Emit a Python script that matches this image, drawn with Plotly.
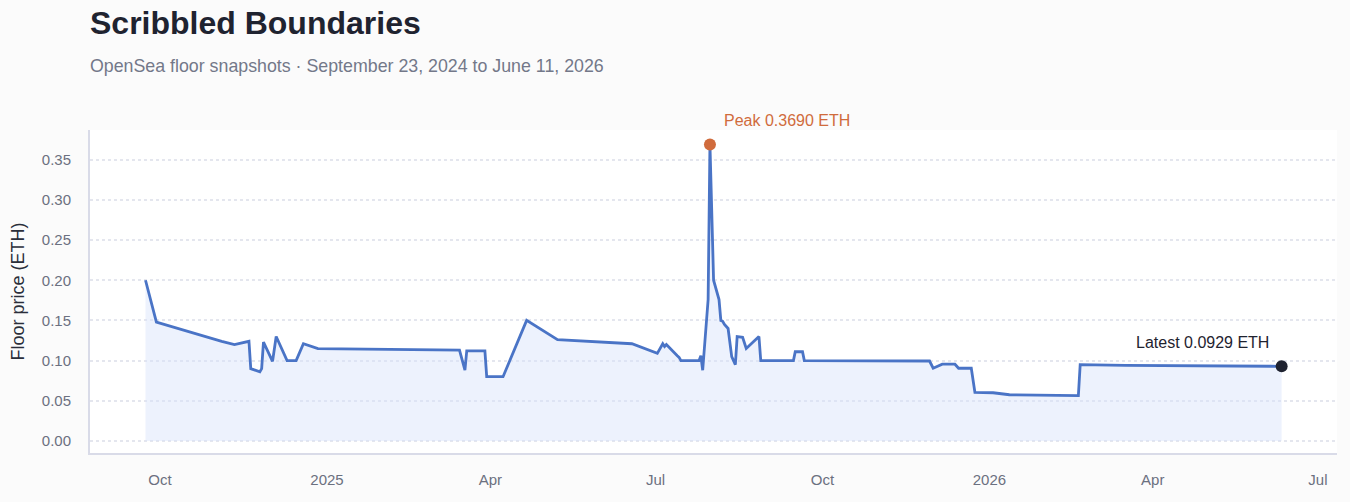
import plotly.graph_objects as go

dates = [
    "2024-09-23", "2024-09-29", "2024-11-04", "2024-11-11", "2024-11-19", "2024-11-20",
    "2024-11-25", "2024-11-26", "2024-11-27", "2024-12-02", "2024-12-04", "2024-12-06",
    "2024-12-07", "2024-12-10", "2024-12-15", "2024-12-19", "2024-12-27", "2025-02-01",
    "2025-03-15", "2025-03-18", "2025-03-19", "2025-03-29", "2025-03-30", "2025-04-08",
    "2025-04-21", "2025-05-08", "2025-06-18", "2025-07-02", "2025-07-05", "2025-07-06",
    "2025-07-07", "2025-07-13", "2025-07-14", "2025-07-15", "2025-07-25", "2025-07-26",
    "2025-07-27", "2025-07-30", "2025-07-31", "2025-08-02", "2025-08-05", "2025-08-06",
    "2025-08-07", "2025-08-08", "2025-08-10", "2025-08-12", "2025-08-14", "2025-08-15",
    "2025-08-18", "2025-08-20", "2025-08-27", "2025-08-28", "2025-09-15", "2025-09-16",
    "2025-09-20", "2025-09-21", "2025-10-14", "2025-10-15", "2025-11-29", "2025-12-01",
    "2025-12-06", "2025-12-13", "2025-12-15", "2025-12-22", "2025-12-24", "2026-01-03",
    "2026-01-12", "2026-02-19", "2026-02-20", "2026-03-17", "2026-05-28", "2026-06-11",
]
floor_eth = [
    0.200, 0.148, 0.124, 0.120, 0.124, 0.090,
    0.086, 0.090, 0.123, 0.099, 0.130, 0.120,
    0.115, 0.100, 0.100, 0.121, 0.115, 0.1145,
    0.113, 0.088, 0.112, 0.112, 0.080, 0.080,
    0.150, 0.126, 0.121, 0.109, 0.121, 0.1175,
    0.120, 0.106, 0.104, 0.100, 0.100, 0.106,
    0.088, 0.176, 0.369, 0.200, 0.176, 0.150,
    0.149, 0.145, 0.140, 0.105, 0.095, 0.130,
    0.129, 0.115, 0.130, 0.100, 0.100, 0.111,
    0.111, 0.100, 0.100, 0.0995, 0.0995, 0.0905,
    0.0955, 0.0955, 0.0905, 0.0905, 0.0605, 0.060,
    0.0575, 0.0565, 0.095, 0.094, 0.0925, 0.0929,
]

tick_vals = ["2024-10-01", "2025-01-01", "2025-04-01", "2025-07-01",
             "2025-10-01", "2026-01-01", "2026-04-01", "2026-07-01"]
tick_text = ["Oct", "2025", "Apr", "Jul", "Oct", "2026", "Apr", "Jul"]
y_ticks = [0.0, 0.05, 0.10, 0.15, 0.20, 0.25, 0.30, 0.35]

title_text = "Scribbled Boundaries"
subtitle_text = "OpenSea floor snapshots · September 23, 2024 to June 11, 2026"

peak_i = max(range(len(floor_eth)), key=lambda i: floor_eth[i])
last_i = len(floor_eth) - 1

FONT = "Liberation Sans, Arial, sans-serif"
LINE = "#4a74c6"
PEAK = "#d06b3c"
DARK = "#1f2330"

fig = go.Figure()
fig.add_trace(go.Scatter(
    x=dates, y=floor_eth, mode="lines",
    line=dict(color=LINE, width=2.8),
    fill="tozeroy", fillcolor="rgba(214,227,250,0.45)",
    hoverinfo="x+y", showlegend=False,
))
fig.add_trace(go.Scatter(
    x=[dates[peak_i]], y=[floor_eth[peak_i]], mode="markers",
    marker=dict(color=PEAK, size=12), showlegend=False,
))
fig.add_trace(go.Scatter(
    x=[dates[last_i]], y=[floor_eth[last_i]], mode="markers",
    marker=dict(color=DARK, size=12), showlegend=False,
))

fig.add_annotation(
    x=dates[peak_i], y=floor_eth[peak_i], text=f"Peak {floor_eth[peak_i]:.4f} ETH",
    showarrow=False, xanchor="left", yanchor="middle", xshift=12, yshift=24,
    font=dict(family=FONT, size=16, color=PEAK),
)
fig.add_annotation(
    x=dates[last_i], y=floor_eth[last_i], text=f"Latest {floor_eth[last_i]:.4f} ETH",
    showarrow=False, xanchor="right", yanchor="middle", xshift=-11, yshift=24,
    font=dict(family=FONT, size=16, color=DARK),
)
fig.add_annotation(
    xref="paper", yref="paper", x=0, y=1.331, xanchor="left", yanchor="middle",
    xshift=-2, text=f"<b>{title_text}</b>", showarrow=False,
    font=dict(family=FONT, size=32, color=DARK),
)
fig.add_annotation(
    xref="paper", yref="paper", x=0, y=1.198, xanchor="left", yanchor="middle",
    xshift=-2, text=subtitle_text, showarrow=False,
    font=dict(family=FONT, size=17.8, color="#737889"),
)

fig.update_layout(
    width=1350, height=502,
    margin=dict(l=90, r=13, t=130, b=49),
    paper_bgcolor="#fbfbfb", plot_bgcolor="#ffffff",
    font=dict(family=FONT, color="#6b7080", size=15),
    xaxis=dict(
        type="date", range=["2024-08-23 10:00", "2026-07-11 12:00"],
        tickvals=tick_vals, ticktext=tick_text,
        showgrid=False, zeroline=False,
        showline=True, linecolor="#d9dbe8", linewidth=2,
        ticks="outside", ticklen=12, tickcolor="rgba(0,0,0,0)",
        tickfont=dict(family=FONT, size=15, color="#6b7080"),
    ),
    yaxis=dict(
        range=[-0.015, 0.387], tickvals=y_ticks, tickformat=".2f",
        showgrid=True, gridcolor="#e4e6ee", griddash="dot", gridwidth=1.5,
        zeroline=False,
        showline=True, linecolor="#d9dbe8", linewidth=2,
        ticks="outside", ticklen=14, tickcolor="rgba(0,0,0,0)",
        tickfont=dict(family=FONT, size=15, color="#6b7080"),
        title=dict(text="Floor price (ETH)", font=dict(family=FONT, size=18, color="#2a2e3a"), standoff=12),
    ),
)

fig.write_html("out.html")
